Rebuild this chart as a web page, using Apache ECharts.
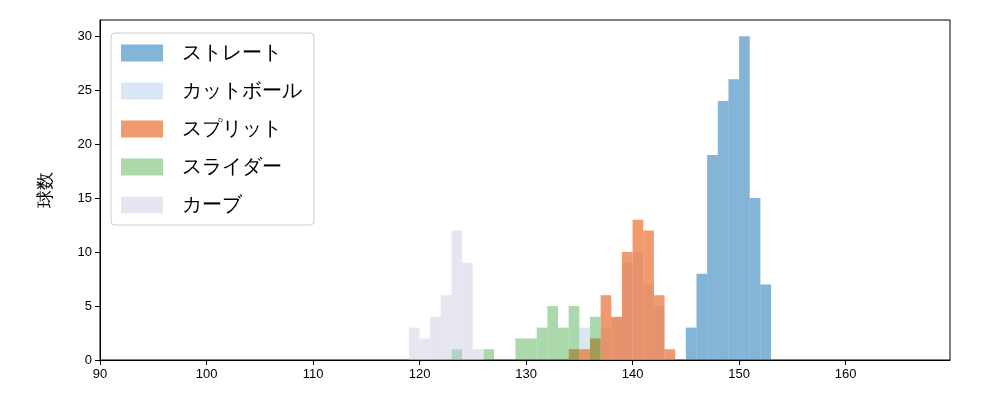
<!DOCTYPE html><html><head><meta charset="utf-8"><script src="https://cdn.jsdelivr.net/npm/echarts@6/dist/echarts.min.js"></script></head><body style="margin:0"><div id="c" style="width:1000px;height:400px"></div><script>
const names=['ストレート','カットボール','スプリット','スライダー','カーブ'];
const colors=['rgba(31,119,180,0.55)','rgba(174,199,232,0.45)','rgba(235,110,50,0.7)','rgba(44,160,44,0.4)','rgba(200,200,225,0.45)'];
const straight=[[145,3],[146,8],[147,19],[148,24],[149,26],[150,30],[151,15],[152,7]];
const cutball=[[135,3],[137,3],[138,4],[139,9],[140,10],[141,7],[142,5]];
const split=[[134,1],[135,1],[136,2],[137,6],[138,4],[139,10],[140,13],[141,12],[142,6],[143,1]];
const slider=[[123,1],[126,1],[129,2],[130,2],[131,3],[132,5],[133,3],[134,5],[136,4]];
const curve=[[119,3],[120,2],[121,4],[122,6],[123,12],[124,9],[125,1]];
const all=[straight,cutball,split,slider,curve];
const ch=echarts.init(document.getElementById('c'));
ch.setOption({
animation:false,
grid:{left:100,right:50,top:20,bottom:40,show:true,borderColor:'#000',borderWidth:1},
xAxis:{type:'value',min:90,max:169.8,interval:10,axisLine:{lineStyle:{color:'#000'}},axisTick:{lineStyle:{color:'#000'}},axisLabel:{color:'#000',fontSize:13,showMaxLabel:false},splitLine:{show:false}},
yAxis:{type:'value',min:0,max:31.5,interval:5,name:'球数',nameLocation:'middle',nameGap:45,nameTextStyle:{fontSize:18,color:'#000'},axisLine:{show:true,lineStyle:{color:'#000'}},axisTick:{show:true,lineStyle:{color:'#000'}},axisLabel:{color:'#000',fontSize:13,showMaxLabel:false},splitLine:{show:false}},
legend:{left:111,top:33,orient:'vertical',itemWidth:42,itemHeight:17,itemGap:18,padding:[10,12,10,10],textStyle:{fontSize:20,color:'#000',padding:[0,0,0,14]},borderColor:'#ccc',borderWidth:1,borderRadius:4,backgroundColor:'rgba(255,255,255,0.8)',data:names.map((n,i)=>({name:n,icon:'rect',itemStyle:{color:colors[i]}}))},
series:all.map((d,i)=>({type:'custom',name:names[i],data:d,itemStyle:{color:colors[i]},
renderItem:(p,api)=>{const x=api.value(0),y=api.value(1);const a=api.coord([x,y]),b=api.coord([x+1,0]);return {type:'rect',shape:{x:a[0],y:a[1],width:b[0]-a[0],height:b[1]-a[1]},style:{fill:colors[i]}};}}))
});
</script></body></html>
